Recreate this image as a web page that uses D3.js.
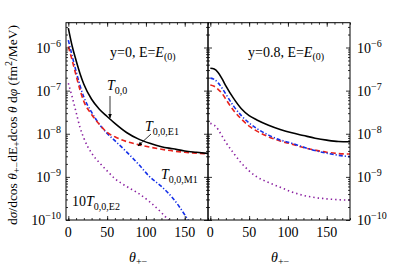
<!DOCTYPE html>
<html><head><meta charset="utf-8">
<script src="https://cdn.jsdelivr.net/npm/d3@7"></script>
<style>body{margin:0;background:#fff}svg{display:block}</style>
</head><body><svg id="c" width="415" height="275" font-family="'Liberation Serif', 'DejaVu Serif', serif"></svg>
<script>
// ---- data ----
const theta = [0,5,10,15,20,30,40,50,60,75,90,105,120,135,150,165,180];
// y = 0 panel
const leftT00   = [2.82e-6,1.07e-6,5.0e-7,2.51e-7,1.41e-7,6.3e-8,3.7e-8,2.51e-8,1.74e-8,1.07e-8,7.6e-9,6.0e-9,5.0e-9,4.47e-9,3.98e-9,3.72e-9,3.5e-9];
const leftE1    = [1.05e-6,5.0e-7,2.24e-7,1.05e-7,5.6e-8,2.8e-8,1.66e-8,1.07e-8,8.5e-9,6.6e-9,5.6e-9,4.9e-9,4.37e-9,3.98e-9,3.72e-9,3.55e-9,3.39e-9];
const thetaM1L  = [0,5,10,15,20,30,40,50,60,75,90,105,120,135,150,155];
const leftM1    = [1.48e-6,6.3e-7,2.8e-7,1.32e-7,7.1e-8,3.16e-8,1.66e-8,1.02e-8,6.9e-9,3.8e-9,2.0e-9,1.0e-9,6.0e-10,3.16e-10,1.32e-10,9.5e-11];
const thetaE2L  = [0,5,10,15,20,30,40,50,60,75,90,105,120,130];
const leftE2x10 = [1.48e-7,7.1e-8,3.16e-8,1.41e-8,7.9e-9,3.55e-9,2.14e-9,1.38e-9,9.1e-10,6.0e-10,4.17e-10,2.63e-10,1.48e-10,9.5e-11];
// y = 0.8 panel
const rightT00   = [3.3e-7,3.16e-7,2.63e-7,1.9e-7,1.29e-7,6.6e-8,3.8e-8,2.63e-8,2.09e-8,1.58e-8,1.26e-8,1.05e-8,9.1e-9,7.9e-9,7.1e-9,6.6e-9,6.5e-9];
const rightE1    = [1.35e-7,1.26e-7,1.07e-7,8.7e-8,6.3e-8,3.47e-8,2.19e-8,1.51e-8,1.15e-8,8.5e-9,6.8e-9,5.75e-9,4.8e-9,4.17e-9,3.72e-9,3.47e-9,3.39e-9];
const rightM1    = [1.95e-7,1.82e-7,1.51e-7,1.15e-7,8.3e-8,4.37e-8,2.63e-8,1.78e-8,1.32e-8,9.3e-9,7.2e-9,6.0e-9,4.9e-9,4.07e-9,3.55e-9,3.16e-9,2.95e-9];
const rightE2x10 = [1.74e-8,1.58e-8,1.26e-8,8.9e-9,6.3e-9,3.55e-9,2.09e-9,1.38e-9,1.0e-9,7.4e-10,5.75e-10,4.47e-10,3.72e-10,3.31e-10,3.09e-10,2.95e-10,2.88e-10];
const xTicks = [0,50,100,150];
const yTickExps = [-6,-7,-8,-9,-10];

(function(){
const svg = d3.select("#c");
const yTop = 22.7, yBot = 220;
const y = d3.scaleLog().domain([1e-10, 3.76e-6]).range([yBot, yTop]);
const panels = [
  {x0:66, x1:208, label:"y=0", lx:110, ly:57,
   series:[[thetaE2L,leftE2x10,"e2"],[thetaM1L,leftM1,"m1"],[theta,leftE1,"e1"],[theta,leftT00,"t"]], labelsLeft:true},
  {x0:208, x1:350, label:"y=0.8", lx:248, ly:57,
   series:[[theta,rightE2x10,"e2"],[theta,rightE1,"e1"],[theta,rightM1,"m1"],[theta,rightT00,"t"]], labelsRight:true}
];
const styles = {
  t:{stroke:"#000", dash:null, w:1.6},
  e1:{stroke:"#e8221c", dash:"5,3", w:1.6},
  m1:{stroke:"#1530e8", dash:"4,2,1.2,2", w:1.6},
  e2:{stroke:"#8a1fa0", dash:"1.4,3", w:1.6}
};
const minors = [];
for (let e=-10; e<=-6; e++) for (let m=2; m<=9; m++) { const v = m*Math.pow(10,e); if (v<=3.76e-6) minors.push(v); }
const xMinor = d3.range(0,181,10);
const defs = svg.append("defs");

panels.forEach((p,i) => {
  const x = d3.scaleLinear().domain([-3,180]).range([p.x0,p.x1]);
  const g = svg.append("g");
  const cid = "clip"+i;
  defs.append("clipPath").attr("id",cid).append("rect").attr("x",p.x0).attr("y",yTop).attr("width",p.x1-p.x0).attr("height",yBot-yTop);
  const line = d3.line().curve(d3.curveMonotoneX);
  p.series.forEach(([tt,vals,k]) => {
    const s = styles[k];
    g.append("path").attr("clip-path",`url(#${cid})`)
      .attr("d", line(tt.map((t,j)=>[x(t), y(vals[j])])))
      .attr("fill","none").attr("stroke",s.stroke).attr("stroke-width",s.w)
      .attr("stroke-dasharray",s.dash);
  });
  g.append("rect").attr("x",p.x0).attr("y",yTop).attr("width",p.x1-p.x0).attr("height",yBot-yTop)
    .attr("fill","none").attr("stroke","#000").attr("stroke-width",1);
  const axs = [
    [d3.axisBottom(x).tickValues(xMinor).tickSize(-2), yBot],
    [d3.axisBottom(x).tickValues(xTicks).tickSize(-4), yBot],
    [d3.axisTop(x).tickValues(xMinor).tickSize(-2), yTop],
    [d3.axisTop(x).tickValues(xTicks).tickSize(-4), yTop]];
  axs.forEach(([a,yy])=>{
    const ag = g.append("g").attr("transform",`translate(0,${yy})`).call(a.tickFormat(""));
    ag.select(".domain").remove(); ag.selectAll("line").attr("stroke","#000").attr("stroke-width",0.8);
  });
  const majV = yTickExps.map(e=>Math.pow(10,e));
  [[d3.axisLeft, p.x0],[d3.axisRight, p.x1]].forEach(([A,xx])=>{
    const a1 = g.append("g").attr("transform",`translate(${xx},0)`).call(A(y).tickValues(minors).tickSize(-2).tickFormat(""));
    const a2 = g.append("g").attr("transform",`translate(${xx},0)`).call(A(y).tickValues(majV).tickSize(-4).tickFormat(""));
    [a1,a2].forEach(ag=>{ag.select(".domain").remove(); ag.selectAll("line").attr("stroke","#000").attr("stroke-width",0.8);});
  });
  xTicks.forEach(t => {
    g.append("text").attr("x",x(t)).attr("y",yBot+17).attr("text-anchor","middle").attr("font-size",14).text(t);
  });
  yTickExps.forEach(e => {
    const yy = y(Math.pow(10,e));
    let tx;
    if (p.labelsLeft) tx = g.append("text").attr("x",p.x0-5).attr("text-anchor","end");
    else tx = g.append("text").attr("x",p.x1+7).attr("text-anchor","start");
    tx.attr("y",yy+5).attr("font-size",14);
    tx.append("tspan").text("10");
    tx.append("tspan").attr("dy",-6).attr("font-size",10).text("−"+(-e));
  });
  const tl = g.append("text").attr("x",p.lx).attr("y",p.ly).attr("font-size",14);
  tl.append("tspan").text(p.label+", E=");
  tl.append("tspan").attr("font-style","italic").text("E");
  tl.append("tspan").attr("dy",3).attr("font-size",10).text("(0)");
  const xl = g.append("text").attr("x",(p.x0+p.x1)/2-8).attr("y",262).attr("font-size",14);
  xl.append("tspan").attr("font-style","italic").text("θ");
  xl.append("tspan").attr("dy",3).attr("font-size",10).text("+−");
});

function tlabel(xx, yy, pre, sub){
  const t = svg.append("text").attr("x",xx).attr("y",yy).attr("font-size",14);
  if (pre) t.append("tspan").text(pre);
  t.append("tspan").attr("font-style","italic").text("T");
  t.append("tspan").attr("dy",4).attr("font-size",10).text(sub);
}
tlabel(107, 90, "", "0,0");
tlabel(145, 131, "", "0,0,E1");
tlabel(161, 179, "", "0,0,M1");
tlabel(72, 206, "10", "0,0,E2");
defs.append("marker").attr("id","ah").attr("viewBox","0 0 10 10").attr("refX",9).attr("refY",5)
  .attr("markerWidth",6).attr("markerHeight",6).attr("orient","auto")
  .append("path").attr("d","M0,1 L10,5 L0,9 Z").attr("fill","#000");
svg.append("line").attr("x1",110).attr("y1",96).attr("x2",110).attr("y2",118)
  .attr("stroke","#000").attr("stroke-width",0.8).attr("marker-end","url(#ah)");
svg.append("line").attr("x1",151).attr("y1",134).attr("x2",138).attr("y2",146)
  .attr("stroke","#000").attr("stroke-width",0.8).attr("marker-end","url(#ah)");

const yt = svg.append("text").attr("transform","translate(17,125) rotate(-90)").attr("text-anchor","middle").attr("font-size",13.5);
yt.append("tspan").text("d");
yt.append("tspan").attr("font-style","italic").text("σ");
yt.append("tspan").text("/dcos ");
yt.append("tspan").attr("font-style","italic").text("θ");
yt.append("tspan").attr("dy",3).attr("font-size",10).text("+−");
yt.append("tspan").attr("dy",-3).text("dE");
yt.append("tspan").attr("dy",3).attr("font-size",10).text("+");
yt.append("tspan").attr("dy",-3).text("dcos ");
yt.append("tspan").attr("font-style","italic").text("θ");
yt.append("tspan").text(" d");
yt.append("tspan").attr("font-style","italic").text("φ");
yt.append("tspan").text(" (fm");
yt.append("tspan").attr("dy",-5).attr("font-size",10).text("2");
yt.append("tspan").attr("dy",5).text("/MeV)");
})();
</script></body></html>
